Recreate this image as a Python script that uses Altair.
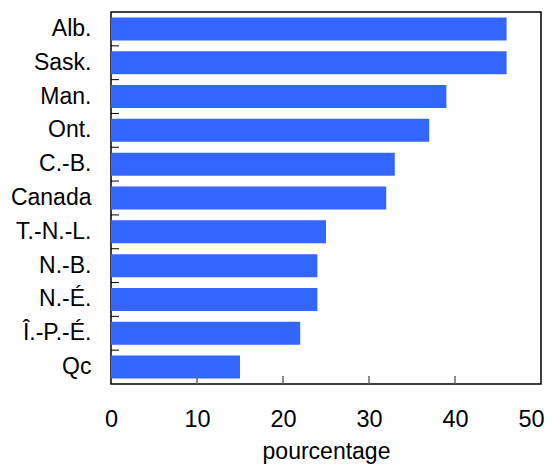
import altair as alt
import pandas as pd

provinces = ["Alb.", "Sask.", "Man.", "Ont.", "C.-B.", "Canada", "T.-N.-L.", "N.-B.", "N.-É.", "Î.-P.-É.", "Qc"]
values = [46, 46, 39, 37, 33, 32, 25, 24, 24, 22, 15]
x_ticks = [10, 20, 30, 40]

df = pd.DataFrame({"prov": provinces, "val": values})
tick_df = pd.DataFrame({"prov": provinces[1:]})
xt_df = pd.DataFrame({"x": x_ticks})

FONT = "Liberation Sans"
W, H = 430, 372

yscale = alt.Scale(paddingInner=0, paddingOuter=0)
xscale = alt.Scale(domain=[0, 50], nice=False)

bars = alt.Chart(df).mark_bar(color="#3366ff", height=alt.RelativeBandSize(0.68)).encode(
    x=alt.X("val:Q", scale=xscale,
            axis=alt.Axis(values=[0, 10, 20, 30, 40, 50], title="pourcentage", grid=False,
                          domain=False, ticks=False, labelPadding=23, labelFontSize=23.5,
                          labelFlush=False,
                          labelOffset={"condition": {"test": "datum.value >= 50", "value": -10}, "value": 0},
                          titleFontSize=23, titleFontWeight="normal", titlePadding=10,
                          labelFont=FONT, titleFont=FONT, labelColor="black", titleColor="black")),
    y=alt.Y("prov:N", sort=provinces, scale=yscale,
            axis=alt.Axis(title=None, domain=False, ticks=False, labelPadding=20, labelFontSize=23,
                          labelFont=FONT, labelColor="black", minExtent=103)),
)

yticks = alt.Chart(tick_df).mark_rule(color="black", strokeWidth=1).encode(
    y=alt.Y("prov:N", sort=provinces, bandPosition=0, scale=yscale),
    x=alt.value(0), x2=alt.value(8),
)

xticks = alt.Chart(xt_df).mark_rule(color="#666666", strokeWidth=1.5).encode(
    x=alt.X("x:Q", scale=xscale),
    y=alt.value(H), y2=alt.value(H - 8),
)

chart = alt.layer(bars, yticks, xticks).properties(
    width=W, height=H, background="white",
    padding={"left": 0, "top": 4, "right": 0, "bottom": 0},
).configure_view(stroke="black", strokeWidth=1.5)

chart.save("out.html", embed_options={"renderer": "svg", "actions": False})
